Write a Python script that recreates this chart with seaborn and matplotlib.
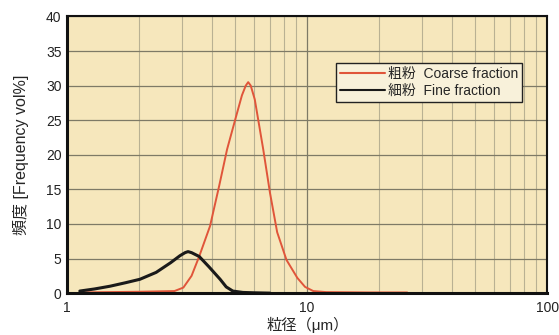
import numpy as np
import pandas as pd
import matplotlib
matplotlib.use("Agg")
import matplotlib.pyplot as plt
import seaborn as sns

# particle size distribution
coarse_size = [1.13, 2.0, 2.8, 3.05, 3.3, 3.55, 3.94, 4.3, 4.64, 5.1, 5.35, 5.55, 5.68, 5.82, 6.05, 6.56, 7.0, 7.5, 8.2, 9.1, 9.8, 10.6, 12.0, 18.0, 26.1]
coarse_freq = [0.1, 0.2, 0.3, 0.8, 2.5, 5.3, 9.7, 15.5, 20.8, 26.0, 28.6, 30.0, 30.5, 30.0, 28.0, 20.8, 14.5, 8.8, 4.8, 2.2, 0.9, 0.3, 0.15, 0.1, 0.1]
fine_size = [1.13, 1.3, 1.51, 1.75, 2.01, 2.35, 2.7, 2.95, 3.1, 3.19, 3.3, 3.55, 3.9, 4.34, 4.6, 4.9, 5.4, 6.0, 7.0]
fine_freq = [0.3, 0.6, 1.0, 1.5, 2.0, 3.0, 4.4, 5.4, 5.85, 6.0, 5.85, 5.3, 3.8, 2.0, 0.9, 0.3, 0.1, 0.05, 0.0]
y_ticks = [0, 5, 10, 15, 20, 25, 30, 35, 40]
x_ticks = [1, 10, 100]
x_tick_labels = ["1", "10", "100"]
legend_labels = ["粗粉  Coarse fraction", "細粉  Fine fraction"]

sns.set_style("white")
plt.rcParams['font.family'] = ['Liberation Sans', 'Noto Sans CJK JP', 'DejaVu Sans']

df = pd.concat([
    pd.DataFrame({"size": coarse_size, "freq": coarse_freq, "kind": legend_labels[0]}),
    pd.DataFrame({"size": fine_size, "freq": fine_freq, "kind": legend_labels[1]}),
], ignore_index=True)

fig = plt.figure(figsize=(5.59, 3.35), dpi=100)
ax = fig.add_axes([0.120, 0.125, 0.859, 0.826])
ax.set_facecolor("#F6E7BC")

sns.lineplot(data=df, x="size", y="freq", hue="kind",
             palette=["#E0553A", "#1A1A1A"], ax=ax, sort=False)
for line, lw in zip(ax.get_lines(), [1.4, 2.2]):
    line.set_linewidth(lw)
    line.set_solid_joinstyle("round")

ax.set_xscale("log")
ax.set_xlim(1, 100)
ax.set_ylim(0, 40)
ax.set_yticks(y_ticks)
ax.set_xticks(x_ticks)
ax.set_xticklabels(x_tick_labels)
ax.minorticks_on()
ax.yaxis.set_minor_locator(matplotlib.ticker.NullLocator())
ax.grid(True, which="major", color="#7E7A66", linewidth=0.9)
ax.grid(True, which="minor", axis="x", color="#B9B193", linewidth=0.8)
ax.set_axisbelow(True)
ax.tick_params(which="both", length=0, labelsize=10, colors="#222222", pad=4)
ax.tick_params(axis="x", pad=6)

for side, sp in ax.spines.items():
    sp.set_color("#111111")
    sp.set_linewidth(2.2 if side in ("left", "bottom") else 1.5)

ax.set_xlabel("粒径（μm）", fontsize=11)
ax.xaxis.set_label_coords(0.5, -0.085)
ax.set_ylabel("頻度 [Frequency vol%]", fontsize=11.5, labelpad=12)

leg = ax.legend(loc="upper right", bbox_to_anchor=(0.962, 0.857), frameon=True,
                fontsize=10, handlelength=3.2, handletextpad=0.2,
                borderpad=0.3, labelspacing=0.2, fancybox=False)
leg.get_frame().set_edgecolor("#222222")
leg.get_frame().set_facecolor("#F8F1DA")
leg.get_frame().set_alpha(1)

fig.savefig("out.png", dpi=100)
